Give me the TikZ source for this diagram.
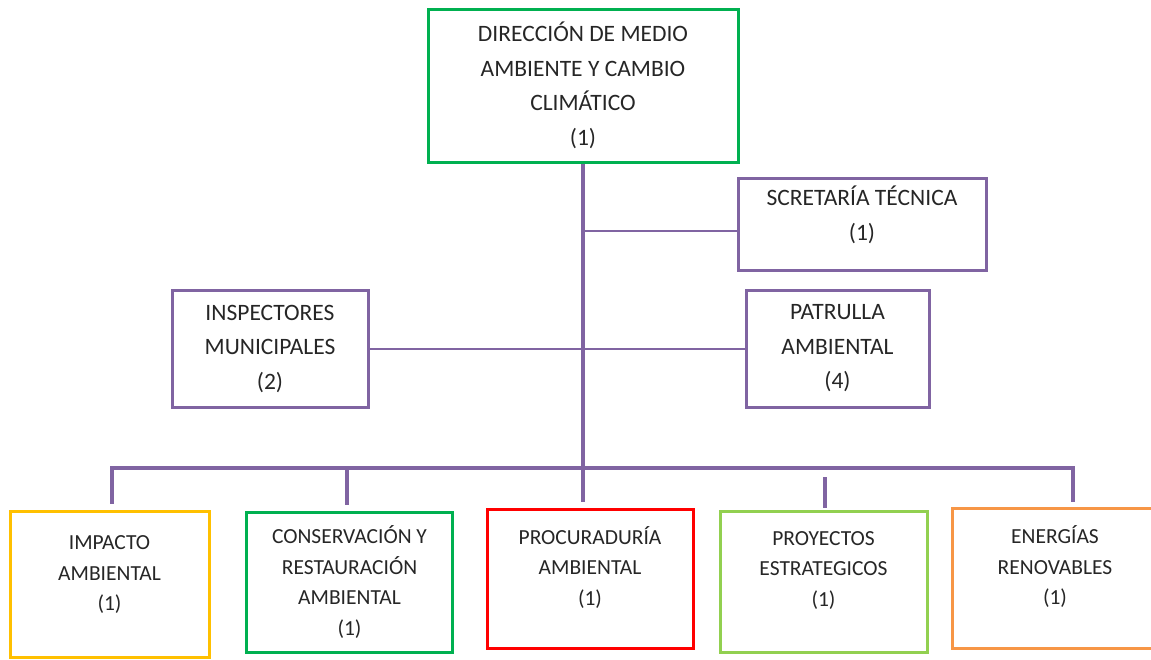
\documentclass[tikz,border=0pt]{standalone}
\usepackage{fontspec}
\setmainfont{Carlito}
\definecolor{verde}{HTML}{00B050}
\definecolor{morado}{HTML}{8064A2}
\definecolor{rojo}{HTML}{FF0000}
\definecolor{amarillo}{HTML}{FFC000}
\definecolor{verdeclaro}{HTML}{92D050}
\definecolor{naranja}{HTML}{F79646}
\tikzset{
	caja/.style={draw, line width=3pt, align=center, inner sep=0pt, text=black!85, font=\fontsize{23.5}{34.5}\selectfont},
	cajab/.style={caja, font=\fontsize{21.5}{30.5}\selectfont},
	linea/.style={draw=morado, line width=4pt},
	fina/.style={draw=morado, line width=2pt}
}
\begin{document}
\begin{tikzpicture}[x=1pt,y=-1pt]
		\useasboundingbox (0,0) rectangle (1151,659);
		\node[caja, draw=verde, minimum width=310pt, minimum height=153pt] (dir) at (583,85.5) {DIRECCIÓN DE MEDIO\\AMBIENTE Y CAMBIO\\CLIMÁTICO\\(1)};
		\node[caja, draw=morado, minimum width=248pt, minimum height=92pt] (sec) at (862,224) {SCRETARÍA TÉCNICA\\(1)\\[-23pt]\strut};
		\node[caja, draw=morado, minimum width=196pt, minimum height=117pt] (insp) at (270,348.5) {INSPECTORES\\MUNICIPALES\\(2)};
		\node[caja, draw=morado, minimum width=183pt, minimum height=117pt] (pat) at (837.5,348.5) {PATRULLA\\AMBIENTAL\\(4)};
		\node[cajab, draw=amarillo, minimum width=199pt, minimum height=146pt] (imp) at (109.5,584) {IMPACTO\\AMBIENTAL\\(1)\\[-18pt]\strut};
		\node[cajab, draw=verde, minimum width=206pt, minimum height=140pt] (cons) at (349.5,582) {CONSERVACIÓN Y\\RESTAURACIÓN\\AMBIENTAL\\(1)};
		\node[cajab, draw=rojo, minimum width=206pt, minimum height=139pt] (proc) at (590,578.5) {PROCURADURÍA\\AMBIENTAL\\(1)\\[-14pt]\strut};
		\node[cajab, draw=verdeclaro, minimum width=207pt, minimum height=141pt] (proy) at (823.5,581.5) {PROYECTOS\\ESTRATEGICOS\\(1)\\[-14pt]\strut};
		\node[cajab, draw=naranja, minimum width=206pt, minimum height=140pt] (en) at (1055,578) {ENERGÍAS\\RENOVABLES\\(1)\\[-14pt]\strut};
		% lineas
		\coordinate (st) at (583,231);
		\coordinate (bi) at (112,468);
		\coordinate (bd) at (1073,468);
		\coordinate (bc) at (347,468);
		\coordinate (bp) at (825,477);
		\draw[fina] (st) -- (st -| sec.west);
		\draw[fina] (insp.east) -- (pat.west);
		\draw[linea, shorten >=6pt] (dir.south) -- (dir.south |- proc.north);
		\draw[linea, shorten <=6pt, shorten >=5pt] (bi |- imp.north) -- (bi) -- (bd) -- (bd |- en.north);
		\draw[linea, shorten >=6pt] (bc) -- (bc |- cons.north);
		\draw[linea, shorten >=2pt] (bp) -- (bp |- proy.north);
	\end{tikzpicture}
\end{document}
